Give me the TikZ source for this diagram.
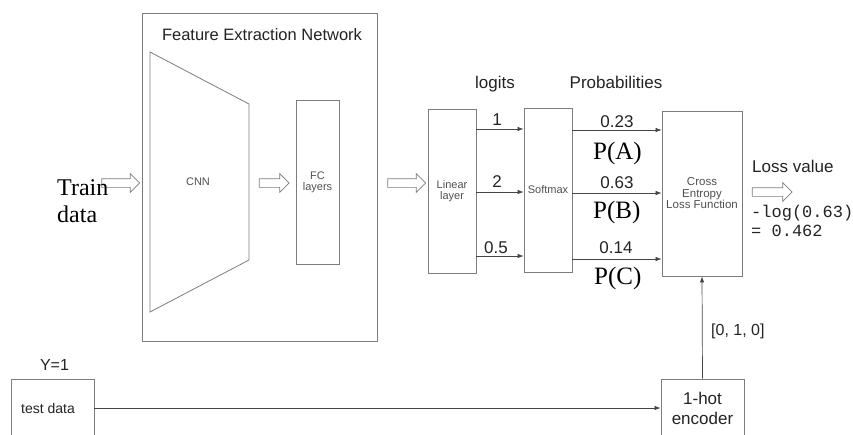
\documentclass[tikz,border=0pt]{standalone}
\usepackage{fontspec}
\setmainfont{Liberation Serif}
\setsansfont{Liberation Sans}
\setmonofont{Liberation Mono}
\usetikzlibrary{arrows.meta,shapes.arrows,calc}
\definecolor{boxgray}{RGB}{125,125,125}
\definecolor{arrgray}{RGB}{70,70,70}
\definecolor{txtgray}{RGB}{35,35,35}
\definecolor{smallgray}{RGB}{80,80,80}
\newcommand{\fs}[1]{\fontsize{#1}{#1}\selectfont}
\begin{document}
\begin{tikzpicture}[x=1pt,y=-1pt,
  box/.style={draw=boxgray,line width=0.8pt,inner sep=0pt,align=center,text=smallgray,font=\sffamily\fs{11}},
  hollow/.style={single arrow,draw=boxgray,line width=0.7pt,inner sep=4pt,
     minimum width=18pt,single arrow head extend=5pt,minimum height=#1},
  conn/.style={draw=arrgray,line width=0.7pt,-{Latex[length=6pt,width=4.5pt]}},
  lbl/.style={text=txtgray,font=\sffamily\fs{17},inner sep=0pt,anchor=base},
  serif/.style={text=black,font=\rmfamily\fs{24},inner sep=0pt,anchor=base west},
  mono/.style={text=txtgray,font=\ttfamily\fs{17},inner sep=0pt,anchor=base west}]
\useasboundingbox (0,0) rectangle (853,434);
\clip (0,0) rectangle (853,434);

% Feature extraction network
\node[box,minimum width=235pt,minimum height=328pt] (fen) at (259.5,177) {};
\node[lbl,font=\sffamily\fs{16.5}] (fentitle) at (262,40) {Feature Extraction Network};
\coordinate (c1) at (150,52);
\coordinate (c2) at (249,104);
\coordinate (c3) at (249,260);
\coordinate (c4) at (150,312);
\draw[draw=boxgray,line width=0.8pt] (c1) -- (c2) -- (c3) -- (c4) -- cycle;
\node[text=smallgray,font=\sffamily\fs{11},inner sep=0pt] (cnn) at (198,182) {CNN};
\node[box,minimum width=43pt,minimum height=164pt] (fc) at (317.5,182) {};
\node[text=smallgray,font=\sffamily\fs{11},inner sep=0pt,align=center] (fclbl) at (317.5,182) {FC\\layers};

% Train data
\node[hollow=38pt] (a1) at (118.5,183) {};
\node[serif] (train1) at (57,195) {Train};
\node[serif] (train2) at (57,222) {data};
\node[hollow=30pt] (a2) at (272,183) {};
\node[hollow=38pt] (a3) at (404.5,183) {};

% linear, softmax, CE
\node[box,minimum width=48pt,minimum height=164pt] (lin) at (452,191) {Linear\\layer};
\node[box,minimum width=48pt,minimum height=164pt] (soft) at (548,190) {Softmax};
\node[box,minimum width=80pt,minimum height=165pt,font=\sffamily\fs{11.5}] (ce) at (702,193.5) {Cross\\Entropy\\Loss Function};

\node[lbl] (logits) at (495,88) {logits};
\node[lbl] (probs) at (616,88) {Probabilities};

\coordinate (l1) at (476,129);
\coordinate (l2) at (476,192);
\coordinate (l3) at (476,256);
\draw[conn] (l1) -- (l1 -| soft.west);
\draw[conn] (l2) -- (l2 -| soft.west);
\draw[conn] (l3) -- (l3 -| soft.west);
\node[lbl] (v1) at (497,125) {1};
\node[lbl] (v2) at (497,187) {2};
\node[lbl] (v3) at (496,253) {0.5};

\coordinate (s1) at (572,130);
\coordinate (s2) at (572,193);
\coordinate (s3) at (572,259);
\draw[conn] (s1) -- (s1 -| ce.west);
\draw[conn] (s2) -- (s2 -| ce.west);
\draw[conn] (s3) -- (s3 -| ce.west);
\node[lbl] (p1) at (617,127) {0.23};
\node[lbl] (p2) at (617,188) {0.63};
\node[lbl] (p3) at (616,253) {0.14};
\node[serif,font=\rmfamily\fs{25}] (pa) at (593,159) {P(A)};
\node[serif,font=\rmfamily\fs{25}] (pb) at (593,218) {P(B)};
\node[serif,font=\rmfamily\fs{25}] (pc) at (594,284) {P(C)};

% loss
\node[lbl,anchor=base west] (lossv) at (752,172) {Loss value};
\node[hollow=40pt] (a4) at (770,192) {};
\node[mono] (log1) at (751,217) {-log(0.63)};
\node[mono] (log2) at (751,236) {= 0.462};

% bottom
\node[lbl,font=\sffamily\fs{16}] (y1) at (54.5,370) {Y=1};
\node[box,minimum width=83pt,minimum height=70pt] (test) at (52.5,414) {};
\node[text=txtgray,font=\sffamily\fs{14},inner sep=0pt,anchor=base] (testlbl) at (48,413) {test data};
\node[box,minimum width=83pt,minimum height=70pt] (hot) at (702.5,414) {};
\node[lbl] (hot1) at (702.5,404) {1-hot};
\node[lbl] (hot2) at (702.5,424) {encoder};
\draw[conn] (test.east |- 0,408) -- (hot.west |- 0,408);
\draw[conn] (hot.north) -- (ce.south);
\node[lbl,font=\sffamily\fs{16},anchor=base west] (vec) at (711,335) {[0, 1, 0]};
\end{tikzpicture}
\end{document}
